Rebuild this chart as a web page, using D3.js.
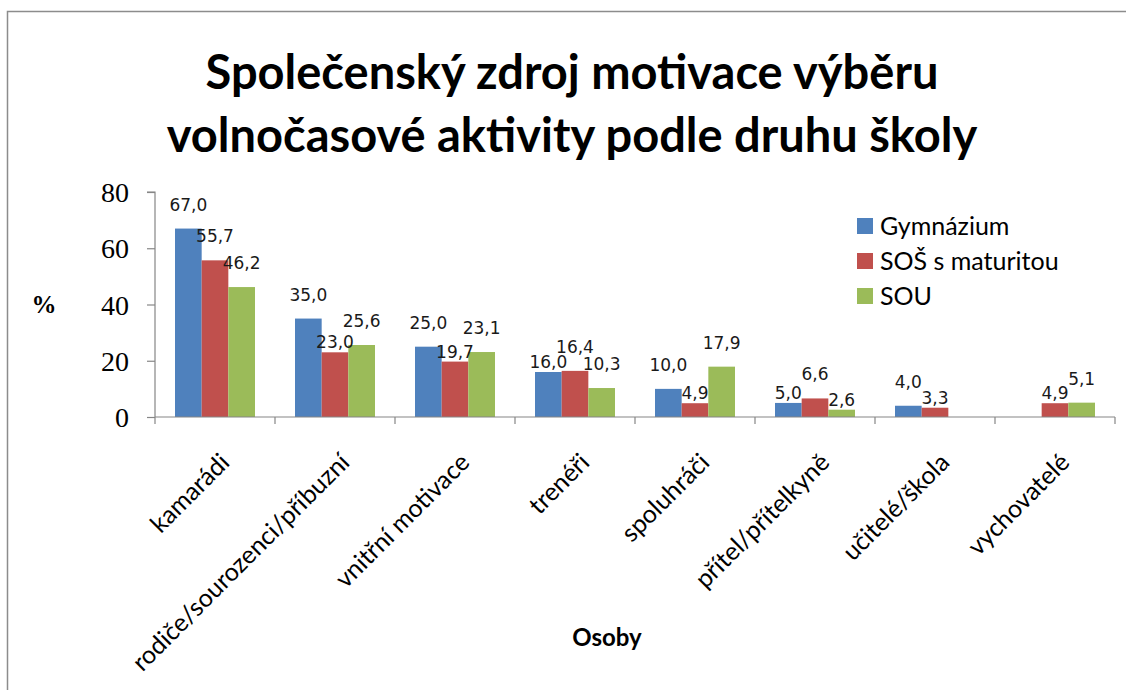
<!DOCTYPE html>
<html>
<head>
<meta charset="utf-8">
<script src="https://cdn.jsdelivr.net/npm/d3@7"></script>
<style>
  html, body { margin: 0; padding: 0; background: #fff; }
  svg { display: block; }
</style>
</head>
<body>
<svg id="chart" width="1126" height="690"></svg>
<script>
// ---- data ----
const titleLines = ["Společenský zdroj motivace výběru", "volnočasové aktivity podle druhu školy"];
const categories = ["kamarádi", "rodiče/sourozenci/příbuzní", "vnitřní motivace", "trenéři", "spoluhráči", "přítel/přítelkyně", "učitelé/škola", "vychovatelé"];
const seriesNames = ["Gymnázium", "SOŠ s maturitou", "SOU"];
const gymnazium = [67.0, 35.0, 25.0, 16.0, 10.0, 5.0, 4.0, null];
const sosMaturita = [55.7, 23.0, 19.7, 16.4, 4.9, 6.6, 3.3, 4.9];
const sou = [46.2, 25.6, 23.1, 10.3, 17.9, 2.6, null, 5.1];
const yTicks = [0, 20, 40, 60, 80];
const yAxisTitle = "%";
const xAxisTitle = "Osoby";

const seriesValues = [gymnazium, sosMaturita, sou];
const colors = ["#4F81BD", "#C0504D", "#9BBB59"];

const svg = d3.select("#chart");

// outer frame
svg.append("rect").attr("x", 7.5).attr("y", 11.5).attr("width", 1300).attr("height", 900)
  .attr("fill", "none").attr("stroke", "#8c8c8c").attr("stroke-width", 1.5);

// title
const title = svg.append("text").attr("text-anchor", "middle")
  .attr("font-family", "Lato, 'Open Sans', sans-serif").attr("font-weight", 700)
  .attr("font-size", 47).attr("fill", "#000");
title.selectAll("tspan").data(titleLines).join("tspan")
  .attr("x", 572).attr("y", (d, i) => 89 + i * 63).text(d => d);

// scales
const plot = { left: 155, right: 1115, top: 192, bottom: 417 };
const x0 = d3.scaleBand().domain(categories).range([plot.left, plot.right]).paddingInner(0).paddingOuter(0);
const x1 = d3.scaleBand().domain(seriesNames).range([0, x0.bandwidth()]).paddingInner(0).paddingOuter(0.75);
const y = d3.scaleLinear().domain([0, 80]).range([plot.bottom, plot.top]);

const fmt = d3.formatLocale({ decimal: ",", thousands: " ", grouping: [3], currency: ["", ""] }).format(".1f");

// bars
const flat = [];
categories.forEach((c, ci) => seriesNames.forEach((s, si) => {
  const v = seriesValues[si][ci];
  if (v !== null && v !== undefined) flat.push({ c, ci, s, si, v });
}));

svg.append("g").selectAll("rect").data(flat).join("rect")
  .attr("x", d => x0(d.c) + x1(d.s))
  .attr("y", d => y(d.v))
  .attr("width", x1.bandwidth())
  .attr("height", d => y(0) - y(d.v))
  .attr("fill", d => colors[d.si]);

// axes
const yAxis = svg.append("g").attr("transform", `translate(${plot.left},0)`)
  .call(d3.axisLeft(y).tickValues(yTicks).tickSize(8).tickPadding(18).tickFormat(d3.format("d")));
yAxis.select(".domain").attr("stroke", "#868686").attr("stroke-width", 1.2).attr("d", `M-8,${plot.top}H0V${plot.bottom}`);
yAxis.selectAll(".tick line").attr("stroke", "#868686").attr("stroke-width", 1.2);
yAxis.selectAll(".tick text").attr("font-family", "'Liberation Serif', 'DejaVu Serif', serif")
  .attr("font-size", 28).attr("fill", "#000").attr("dy", "0.34em");

const xAxisG = svg.append("g");
xAxisG.append("line").attr("x1", plot.left).attr("x2", plot.right).attr("y1", plot.bottom).attr("y2", plot.bottom)
  .attr("stroke", "#868686").attr("stroke-width", 1.2);
const boundaries = categories.map(c => x0(c)).concat([x0(categories[categories.length - 1]) + x0.bandwidth()]);
xAxisG.selectAll("line.tk").data(boundaries).join("line").attr("class", "tk")
  .attr("x1", d => d).attr("x2", d => d).attr("y1", plot.bottom).attr("y2", plot.bottom + 7)
  .attr("stroke", "#868686").attr("stroke-width", 1.2);

// category labels
svg.append("g").selectAll("text").data(categories).join("text")
  .attr("transform", d => `translate(${x0(d) + x0.bandwidth() / 2 + 16},${plot.bottom + 47}) rotate(-45)`)
  .attr("text-anchor", "end")
  .attr("font-family", "Lato, 'Open Sans', sans-serif").attr("font-size", 25).attr("fill", "#000")
  .text(d => d);

// data labels: above each bar; when two neighbouring labels collide, the one on the lower bar drops down
const labelG = svg.append("g");
const labels = labelG.selectAll("text").data(flat).join("text")
  .attr("x", d => x0(d.c) + x1(d.s) + x1.bandwidth() / 2)
  .attr("text-anchor", "middle")
  .attr("font-family", "'DejaVu Sans', Verdana, sans-serif").attr("font-size", 17).attr("fill", "#1a1a1a")
  .text(d => fmt(d.v));
labels.each(function (d) {
  d.cx = x0(d.c) + x1(d.s) + x1.bandwidth() / 2;
  d.w = this.getComputedTextLength();
  d.base = y(d.v) - 18;
});
d3.groups(flat, d => d.ci).forEach(([, group]) => {
  for (let i = 1; i < group.length; i++) {
    const a = group[i - 1], b = group[i];
    const hOverlap = Math.abs(a.cx - b.cx) < (a.w + b.w) / 2;
    const vOverlap = Math.abs(a.base - b.base) < 15;
    if (hOverlap && vOverlap) {
      const low = a.v < b.v ? a : b;
      low.base = y(low.v) - 4;
    }
  }
});
labels.attr("y", d => d.base);

// axis titles
svg.append("text").attr("x", 44).attr("y", 313).attr("text-anchor", "middle")
  .attr("font-family", "'Liberation Serif', serif").attr("font-weight", 700).attr("font-size", 25)
  .text(yAxisTitle);
svg.append("text").attr("x", 607).attr("y", 646).attr("text-anchor", "middle")
  .attr("font-family", "Lato, 'Open Sans', sans-serif").attr("font-weight", 700).attr("font-size", 24)
  .text(xAxisTitle);

// legend
const legend = svg.append("g").attr("transform", "translate(857,218)");
const li = legend.selectAll("g").data(seriesNames).join("g").attr("transform", (d, i) => `translate(0,${i * 35})`);
li.append("rect").attr("width", 16).attr("height", 16).attr("fill", (d, i) => colors[i]);
li.append("text").attr("x", 23).attr("y", 17).attr("font-family", "Lato, 'Open Sans', sans-serif")
  .attr("font-size", 25).attr("fill", "#000").text(d => d);
</script>
</body>
</html>
